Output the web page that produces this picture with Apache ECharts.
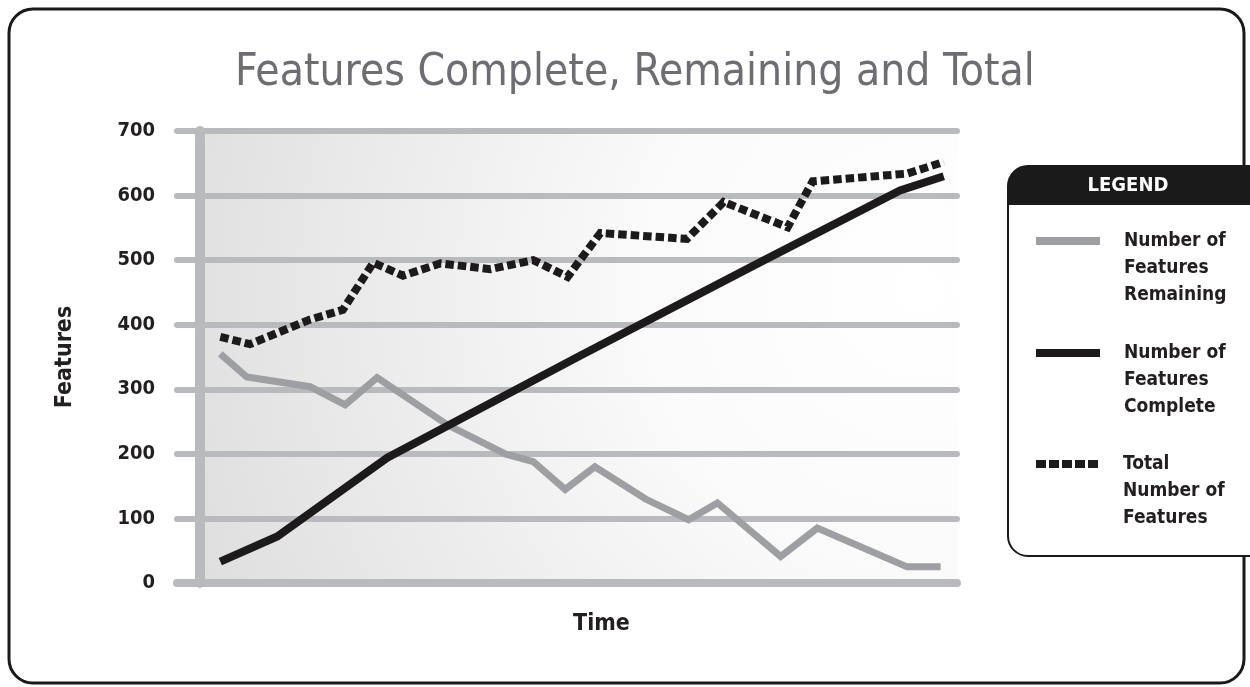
<!DOCTYPE html>
<html>
<head>
<meta charset="utf-8">
<script src="https://cdn.jsdelivr.net/npm/echarts@6/dist/echarts.min.js"></script>
<style>
html,body{margin:0;padding:0;background:#fff;}
#chart{width:1250px;height:687px;}
</style>
</head>
<body>
<div id="chart"></div>
<script>
// ---- data (x = time units, y = features) ----
const seriesNames = ['Number of Features Remaining', 'Number of Features Complete', 'Total Number of Features'];
const legendLabels = ['Number of\nFeatures\nRemaining', 'Number of\nFeatures\nComplete', 'Total\nNumber of\nFeatures'];
const remaining = [[2.6,355],[6.0,319],[14.1,304],[18.6,276],[22.7,318],[31.7,245],[39.1,200],[42.7,188],[46.8,145],[50.6,180],[57.1,130],[62.6,98],[66.3,124],[74.4,41],[79.1,85],[90.6,25],[94.9,25]];
const complete = [[2.6,33],[9.9,72],[24.0,194],[48.7,352],[71.8,497],[89.7,608],[95.3,630]];
const total = [[2.6,381],[6.4,370],[14.1,408],[18.3,423],[22.2,496],[26.0,476],[30.8,495],[37.2,486],[42.7,500],[47.1,474],[51.3,542],[62.4,533],[67.1,590],[75.3,551],[78.5,622],[90.6,634],[95.3,652]];
const yTicks = [0,100,200,300,400,500,600,700];
const titleText = 'Features Complete, Remaining and Total';
const xName = 'Time';
const yName = 'Features';

const FONT = '"DejaVu Sans Condensed", "Liberation Sans Narrow", "DejaVu Sans", sans-serif';
const GRID_C = '#b9babd';
const chart = echarts.init(document.getElementById('chart'), null, {renderer:'canvas'});

const dotIcon = 'path://M0,0h10v8h-10z M13,0h10v8h-10z M26,0h10v8h-10z M39,0h10v8h-10z M52,0h10v8h-10z';
function legendFor(i, top, icon) {
  return {
    data: [{name: seriesNames[i], icon: icon}],
    left: 1036, top: top, padding: 0,
    itemWidth: 64, itemHeight: 8,
    selectedMode: false,
    itemStyle: {borderWidth: 0},
    // two leading blank lines so the first text line sits level with the icon
    formatter: () => '\n\n' + legendLabels[i],
    textStyle: {fontFamily: FONT, fontWeight: 'bold', fontSize: 19, color: '#231f20', lineHeight: 27, padding: [0, 0, 0, 19]}
  };
}

const option = {
  animation: false,
  backgroundColor: '#ffffff',
  title: {
    text: titleText, left: 235, top: 47, padding: [5, 0, 5, 0],
    textStyle: {fontFamily: FONT, fontWeight: 'normal', fontSize: 44, color: '#6d6e71'}
  },
  legend: [
    legendFor(0, 173.5, 'rect'),
    legendFor(1, 285.5, 'rect'),
    legendFor(2, 396.5, dotIcon)
  ],
  grid: [
    {left: 200, right: 293, top: 131, bottom: 104, show: true, borderWidth: 0,
     backgroundColor: {type: 'radial', x: 0.95, y: 0.35, r: 1.8,
       colorStops: [{offset: 0, color: '#ffffff'}, {offset: 0.35, color: '#fafafa'}, {offset: 1, color: '#dcdcdc'}]}},
    {left: 177, width: 23, top: 131, bottom: 104}
  ],
  xAxis: [
    {type: 'value', gridIndex: 0, min: 0, max: 97,
     axisLine: {show: true, lineStyle: {color: GRID_C, width: 8}},
     axisTick: {show: false}, axisLabel: {show: false}, splitLine: {show: false},
     name: xName, nameLocation: 'middle', nameGap: 30,
     nameTextStyle: {fontFamily: FONT, fontWeight: 'bold', fontSize: 23, color: '#231f20', padding: [0, 0, 0, 46]}},
    {type: 'value', gridIndex: 1, min: 0, max: 1,
     axisLine: {show: true, onZero: false, lineStyle: {color: GRID_C, width: 8}},
     axisTick: {show: false}, axisLabel: {show: false}, splitLine: {show: false}}
  ],
  yAxis: [
    {type: 'value', gridIndex: 0, min: 0, max: 700, interval: 100,
     axisLine: {show: true, lineStyle: {color: GRID_C, width: 10}},
     axisTick: {show: false}, axisLabel: {show: false},
     splitLine: {show: true, lineStyle: {color: GRID_C, width: 6, cap: 'round'}}},
    {type: 'value', gridIndex: 1, min: 0, max: 700, interval: 100,
     axisLine: {show: false}, axisTick: {show: false},
     axisLabel: {show: true, margin: 22, fontFamily: FONT, fontWeight: 'bold', fontSize: 20, color: '#231f20',
       formatter: v => yTicks.includes(v) ? String(v) : ''},
     splitLine: {show: true, lineStyle: {color: GRID_C, width: 6, cap: 'round'}},
     name: yName, nameLocation: 'middle', nameGap: 100, nameRotate: 90,
     nameTextStyle: {fontFamily: FONT, fontWeight: 'bold', fontSize: 23, color: '#231f20'}}
  ],
  series: [
    {name: seriesNames[0], type: 'line', xAxisIndex: 0, yAxisIndex: 0, data: remaining,
     color: '#9d9fa2', symbol: 'none', showSymbol: false,
     lineStyle: {color: '#9d9fa2', width: 7, join: 'miter'}},
    {name: seriesNames[1], type: 'line', xAxisIndex: 0, yAxisIndex: 0, data: complete,
     color: '#1c1a1b', symbol: 'none', showSymbol: false,
     lineStyle: {color: '#1c1a1b', width: 8, join: 'miter'}},
    {name: seriesNames[2], type: 'line', xAxisIndex: 0, yAxisIndex: 0, data: total,
     color: '#1c1a1b', symbol: 'none', showSymbol: false,
     lineStyle: {color: '#1c1a1b', width: 8, type: [8.5, 4], cap: 'butt', join: 'miter'}}
  ],
  graphic: [
    {type: 'rect', z: -10, silent: true, shape: {x: 9, y: 9, width: 1235, height: 674, r: 24},
     style: {fill: 'none', stroke: '#1a1a1a', lineWidth: 3}},
    {type: 'rect', z: 1, silent: true, shape: {x: 1008, y: 166, width: 270, height: 390, r: [20, 0, 0, 20]},
     style: {fill: '#ffffff', stroke: '#1a1a1a', lineWidth: 2}},
    {type: 'rect', z: 2, silent: true, shape: {x: 1008, y: 166, width: 270, height: 39, r: [20, 0, 0, 0]},
     style: {fill: '#1a1a1a'}},
    {type: 'text', z: 3, silent: true, x: 1128, y: 186,
     style: {text: 'LEGEND', fill: '#ffffff', font: 'bold 20px ' + FONT, align: 'center', verticalAlign: 'middle'}}
  ]
};
chart.setOption(option);
</script>
</body>
</html>
